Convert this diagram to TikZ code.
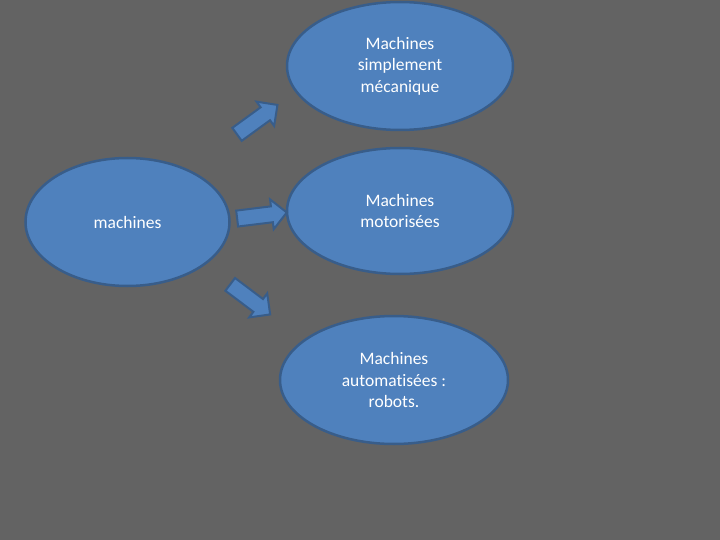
\documentclass[tikz,border=0pt]{standalone}
\usepackage{fontspec}
\setmainfont{Carlito}[Ligatures={NoCommon,NoRequired,NoContextual}]
\usetikzlibrary{shapes.geometric,shapes.arrows}

\definecolor{slidegray}{RGB}{99,99,99}
\definecolor{ovalblue}{RGB}{79,129,189}
\definecolor{ovalline}{RGB}{56,93,138}

\begin{document}
\begin{tikzpicture}[
  x=1pt,y=-1pt,
  oval/.style={ellipse,draw=ovalline,line width=2.5pt,fill=ovalblue,text=white,align=center,
    font=\fontsize{17.5}{21.5}\selectfont,inner sep=0pt},
  blockarrow/.style={single arrow,draw=ovalline,line width=2pt,fill=ovalblue,
    minimum height=50pt,minimum width=29pt,single arrow head extend=7pt,inner sep=7pt}
]
\fill[slidegray] (0,0) rectangle (720,540);
\useasboundingbox (0,0) rectangle (720,540);
\node[oval,minimum width=204pt,minimum height=128pt] (src) at (127.5,222) {machines};
\node[oval,minimum width=226pt,minimum height=128pt] (meca) at (400,66) {Machines\\simplement\\mécanique};
\node[oval,minimum width=226pt,minimum height=126pt] (moto) at (400,211) {Machines\\motorisées};
\node[oval,minimum width=228pt,minimum height=128pt] (robo) at (394,380) {Machines\\automatisées :\\robots.};
% block arrows between the ovals
\node[blockarrow,rotate=36] (up) at (254,122) {};
\node[blockarrow,rotate=7] (mid) at (258,216) {};
\node[blockarrow,rotate=-37] (down) at (247,297) {};
\end{tikzpicture}
\end{document}
